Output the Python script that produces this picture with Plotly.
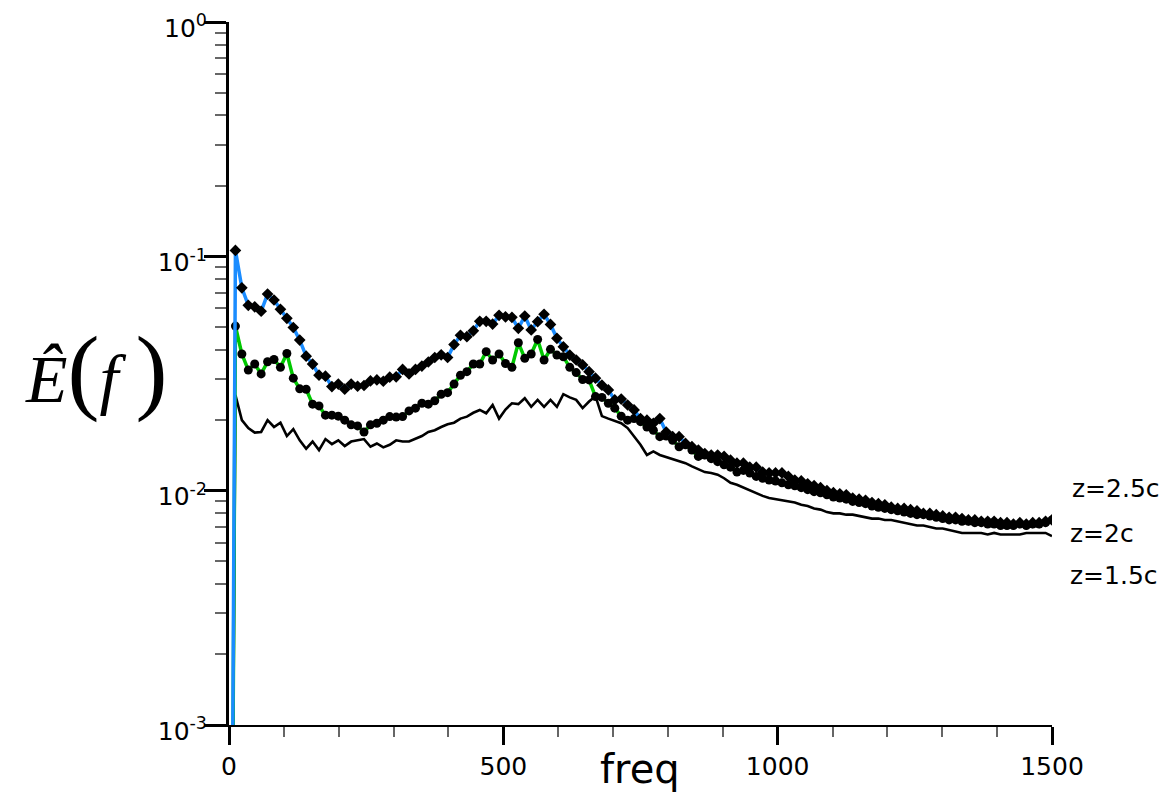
import plotly.graph_objects as go

df = 1500 / 128
freq = [round(i * df, 3) for i in range(129)]

z25 = [1e-6,
 0.106, 0.0734, 0.0618, 0.0609, 0.0583, 0.0690, 0.0651, 0.0594, 0.0544, 0.0497,
 0.0439, 0.0375, 0.0347, 0.0311, 0.0308, 0.0278, 0.0285, 0.0271, 0.0285, 0.0279,
 0.0281, 0.0294, 0.0297, 0.0293, 0.0305, 0.0306, 0.0329, 0.0315, 0.0329, 0.0340,
 0.0354, 0.0370, 0.0380, 0.0370, 0.0420, 0.0460, 0.0454, 0.0481, 0.0528, 0.0528,
 0.0514, 0.0560, 0.0552, 0.0549, 0.0493, 0.0556, 0.0485, 0.0526, 0.0566, 0.0512,
 0.0447, 0.0411, 0.0379, 0.0361, 0.0344, 0.0322, 0.0302, 0.0282, 0.0269, 0.0244,
 0.0246, 0.0232, 0.0221, 0.0203, 0.0200, 0.0194, 0.0203, 0.0178, 0.0170, 0.0170,
 0.0159, 0.0154, 0.0149, 0.0144, 0.0142, 0.0142, 0.0140, 0.0135, 0.0131, 0.0131,
 0.0126, 0.0126, 0.0120, 0.0119, 0.0119, 0.0119, 0.0115, 0.0111, 0.0110, 0.0107,
 0.0105, 0.0103, 0.0100, 0.0098, 0.0097, 0.0096, 0.0093, 0.0092, 0.0091, 0.0089,
 0.0088, 0.0087, 0.0085, 0.0084, 0.0084, 0.0083, 0.0082, 0.0080, 0.0080, 0.0079,
 0.0078, 0.0077, 0.0077, 0.0076, 0.0075, 0.0075, 0.0074, 0.0074, 0.0074, 0.0073,
 0.0073, 0.0072, 0.0073, 0.0072, 0.0073, 0.0073, 0.0074, 0.0075]

z20 = [1e-6,
 0.0504, 0.0383, 0.0327, 0.0347, 0.0315, 0.0355, 0.0363, 0.0336, 0.0385, 0.0302,
 0.0272, 0.0271, 0.0234, 0.0230, 0.0210, 0.0210, 0.0208, 0.0200, 0.0191, 0.0189,
 0.0178, 0.0191, 0.0194, 0.0200, 0.0207, 0.0206, 0.0207, 0.0219, 0.0225, 0.0236,
 0.0234, 0.0242, 0.0258, 0.0262, 0.0285, 0.0311, 0.0322, 0.0347, 0.0347, 0.0392,
 0.0361, 0.0383, 0.0349, 0.0336, 0.0428, 0.0367, 0.0383, 0.0442, 0.0361, 0.0401,
 0.0379, 0.0373, 0.0336, 0.0319, 0.0298, 0.0297, 0.0252, 0.0250, 0.0236, 0.0225,
 0.0208, 0.0200, 0.0203, 0.0197, 0.0187, 0.0181, 0.0170, 0.0171, 0.0164, 0.0154,
 0.0157, 0.0149, 0.0140, 0.0142, 0.0137, 0.0133, 0.0129, 0.0126, 0.0120, 0.0122,
 0.0119, 0.0115, 0.0113, 0.0111, 0.0110, 0.0108, 0.0106, 0.0105, 0.0103, 0.0101,
 0.0099, 0.0098, 0.0096, 0.0094, 0.0093, 0.0092, 0.0090, 0.0089, 0.0088, 0.0086,
 0.0085, 0.0084, 0.0083, 0.0082, 0.0081, 0.0080, 0.0079, 0.0079, 0.0078, 0.0077,
 0.0076, 0.0075, 0.0075, 0.0074, 0.0074, 0.0073, 0.0073, 0.0072, 0.0072, 0.0071,
 0.0071, 0.0071, 0.0072, 0.0071, 0.0072, 0.0072, 0.0073, 0.0075]

z15 = [1e-6,
 0.0256, 0.0200, 0.0185, 0.0177, 0.0178, 0.0200, 0.0187, 0.0195, 0.0171, 0.0183,
 0.0164, 0.0151, 0.0162, 0.0149, 0.0166, 0.0158, 0.0164, 0.0155, 0.0162, 0.0164,
 0.0166, 0.0154, 0.0159, 0.0153, 0.0157, 0.0164, 0.0162, 0.0162, 0.0166, 0.0171,
 0.0178, 0.0181, 0.0187, 0.0192, 0.0195, 0.0203, 0.0207, 0.0215, 0.0221, 0.0214,
 0.0232, 0.0203, 0.0222, 0.0236, 0.0234, 0.0248, 0.0228, 0.0244, 0.0228, 0.0244,
 0.0228, 0.0258, 0.0250, 0.0244, 0.0225, 0.0240, 0.0253, 0.0208, 0.0203, 0.0199,
 0.0194, 0.0185, 0.0170, 0.0157, 0.0142, 0.0147, 0.0142, 0.0139, 0.0136, 0.0133,
 0.0131, 0.0127, 0.0123, 0.0120, 0.0119, 0.0117, 0.0113, 0.0108, 0.0106, 0.0103,
 0.0100, 0.0097, 0.0095, 0.0093, 0.0092, 0.0091, 0.0090, 0.0089, 0.0087, 0.0086,
 0.0084, 0.0083, 0.0081, 0.0080, 0.0080, 0.0079, 0.0079, 0.0078, 0.0077, 0.0076,
 0.0076, 0.0075, 0.0075, 0.0074, 0.0073, 0.0072, 0.0071, 0.0071, 0.0070, 0.0069,
 0.0069, 0.0068, 0.0067, 0.0066, 0.0066, 0.0066, 0.0066, 0.0065, 0.0066, 0.0065,
 0.0065, 0.0065, 0.0065, 0.0066, 0.0066, 0.0066, 0.0066, 0.0064]

series_labels = ["z=2.5c", "z=2c", "z=1.5c"]
label_pos = [(1.0219, 0.337), (1.0194, 0.272), (1.0194, 0.212)]

x_ticks = [0, 500, 1000, 1500]
y_ticks = [1e-3, 1e-2, 1e-1, 1]
y_ticktext = ["10<sup>-3</sup>", "10<sup>-2</sup>", "10<sup>-1</sup>", "10<sup>0</sup>"]

FONT = "DejaVu Sans"

fig = go.Figure()
fig.add_trace(go.Scatter(x=freq, y=z15, mode="lines",
                         line=dict(color="black", width=2.6), name="z=1.5c"))
fig.add_trace(go.Scatter(x=freq, y=z20, mode="lines+markers",
                         line=dict(color="#00c800", width=3.5),
                         marker=dict(symbol="circle", size=9, color="black"),
                         name="z=2c"))
fig.add_trace(go.Scatter(x=freq, y=z25, mode="lines+markers",
                         line=dict(color="#1a8cff", width=3.5),
                         marker=dict(symbol="diamond", size=9, color="black"),
                         name="z=2.5c"))

# page body adds an 8px offset; size the figure so the plot lands where the reference has it
fig.update_layout(
    width=1161, height=790,
    margin=dict(l=221, r=117, t=14, b=73, autoexpand=False),
    paper_bgcolor="white", plot_bgcolor="white",
    showlegend=False,
    font=dict(family=FONT, size=25, color="black"),
)

fig.update_xaxes(
    range=[0, 1500], tickvals=x_ticks, ticktext=[str(v) for v in x_ticks],
    showgrid=False, zeroline=False, automargin=False,
    showline=True, linecolor="black", linewidth=2,
    ticks="outside", ticklen=18, tickwidth=3, tickcolor="black",
    ticklabeloverflow="allow",
    minor=dict(ticks="outside", ticklen=10, tickwidth=1.5, tickcolor="#666666",
               dtick=100, showgrid=False),
    tickfont=dict(family=FONT, size=25, color="black"),
)

fig.update_yaxes(
    type="log", range=[-3, 0], tickvals=y_ticks, ticktext=y_ticktext,
    showgrid=False, zeroline=False, automargin=False,
    showline=True, linecolor="black", linewidth=3,
    ticks="outside", ticklen=22, tickwidth=3, tickcolor="black",
    ticklabelstandoff=-8, ticklabelshift=6, ticklabeloverflow="allow",
    minor=dict(ticks="outside", ticklen=11, tickwidth=1.5, tickcolor="#666666",
               dtick="D1", showgrid=False),
    tickfont=dict(family=FONT, size=25, color="black"),
)

for lab, (px, py) in zip(series_labels, label_pos):
    fig.add_annotation(text=lab, xref="paper", yref="paper", x=px, y=py,
                       xanchor="left", yanchor="middle", showarrow=False,
                       font=dict(family=FONT, size=25, color="black"))

fig.add_annotation(text="freq", xref="paper", yref="paper", x=0.4995, y=-0.062,
                   xanchor="center", yanchor="middle", showarrow=False,
                   font=dict(family=FONT, size=40, color="black"))

fig.add_annotation(
    text="<i>Ê</i><span style='font-size:96px'>(</span><i>f</i> <span style='font-size:96px'>)</span>",
    xref="paper", yref="paper", x=-0.162, y=0.5064,
    xanchor="center", yanchor="middle", showarrow=False,
    font=dict(family="Liberation Serif", size=68, color="black"))

fig.write_html("out.html")
